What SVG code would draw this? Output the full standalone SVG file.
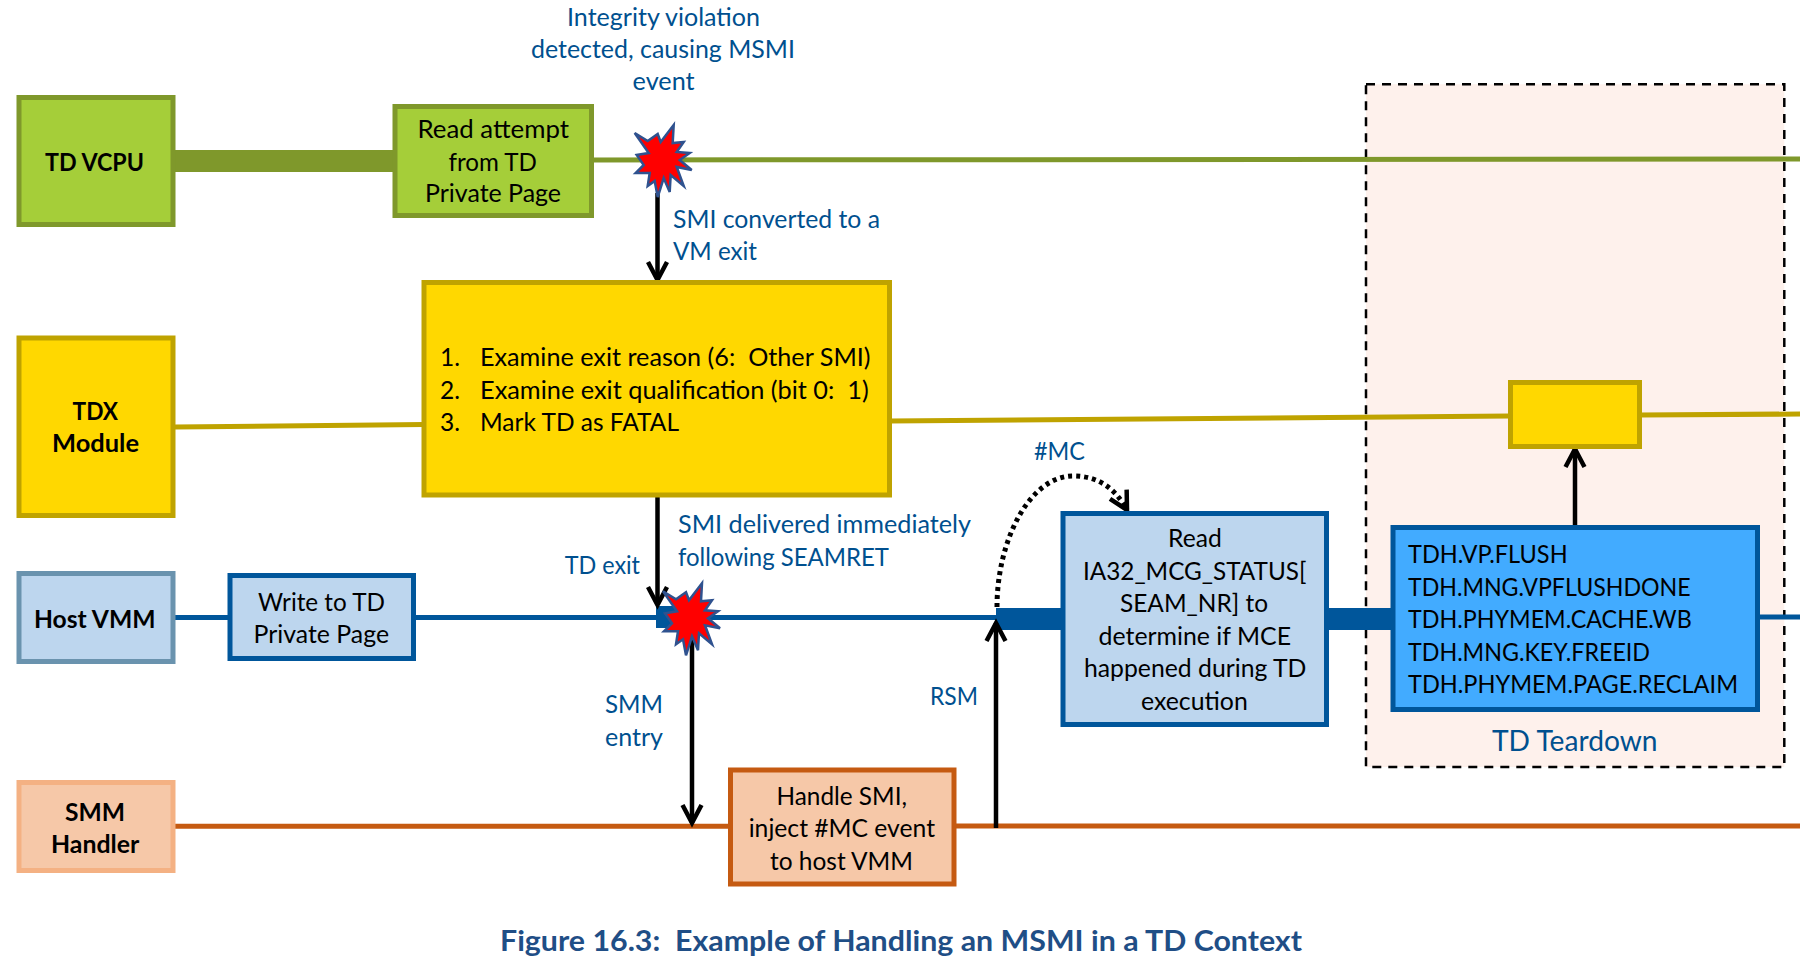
<svg xmlns="http://www.w3.org/2000/svg" width="1820" height="961" viewBox="0 0 1820 961">
<style>
text{font-family:Lato,"Liberation Sans",sans-serif;font-size:24.5px;fill:#000;white-space:pre;transform:translateY(.7px)}
.l{fill:#00508F}
.b{font-weight:700}
.cap{font-weight:700;fill:#1F4E86;font-size:28px}
.big{font-size:28px;fill:#00508F}
.gr{fill:#A5CE39;stroke:#7F982B;stroke-width:5}
.ye{fill:#FFD800;stroke:#BFA300;stroke-width:5}
.hb{fill:#BDD6EE;stroke:#6A93AE;stroke-width:5}
.bl{fill:#BDD6EE;stroke:#00569B;stroke-width:5}
.sm{fill:#F6C8A8;stroke:#F4B183;stroke-width:5}
.or{fill:#F6C8A8;stroke:#C55A11;stroke-width:5}
.td{fill:#42ABFF;stroke:#00569B;stroke-width:5}
.line{fill:none;stroke-width:5}
.g{stroke:#7F982B}.y{stroke:#BFA300}.u{stroke:#00569B}.o{stroke:#C55A11}
.arr{fill:none;stroke:#000;stroke-width:4.5;marker-end:url(#head)}
.star{fill:#F00;stroke:#2F528F;stroke-width:2.5}
</style>
<defs>
<marker id="head" markerUnits="userSpaceOnUse" markerWidth="30" markerHeight="30" refX="22" refY="15" orient="auto" overflow="visible">
<path d="M4 5.5L22 15L4 24.5" fill="none" stroke="#000" stroke-width="4.5" stroke-linejoin="miter"/>
</marker>
<polygon id="burst" points="-28 -27,-15 -19,-5 -26,-2 -18,11 -35,10 -17,21 -18,14 -8,27 -7,17 0,29 10,14 7,21 26,8 15,7 32,1 18,-5 37,-8 21,-15 26,-13 13,-27 13,-19 5,-26 -5,-14 -7"/>
</defs>
<rect width="1820" height="961" fill="#fff"/>
<rect id="teardown-region" x="1366" y="84.3" width="418.3" height="682.7" fill="#FEF1EC" stroke="#000" stroke-width="2.5" stroke-dasharray="9 7"/>
<g id="connectors">
<rect x="175" y="150" width="220" height="22" fill="#7F982B"/>
<path class="line g" d="M592 160L1800 159"/>
<path class="line y" d="M175 427L424 424.5"/>
<path class="line y" d="M890 421L1510 416"/>
<path class="line y" d="M1640 415L1800 414"/>
<path class="line u" d="M175 617.5H230"/>
<path class="line u" d="M413 617.5H1000"/>
<rect x="656" y="606" width="22" height="22" fill="#00569B"/>
<rect x="996" y="608" width="70" height="22" fill="#00569B"/>
<rect x="1327" y="608" width="66" height="22" fill="#00569B"/>
<path class="line u" d="M1758 617H1800"/>
<path class="line o" d="M175 826.3H730"/>
<path class="line o" d="M955 826H1800"/>
<path class="arr" d="M657.5 193V280"/>
<path class="arr" d="M657.5 497V605"/>
<path class="arr" d="M692 625V823"/>
<path class="arr" d="M996 828V623"/>
<path class="arr" d="M1575 527V449"/>
<path d="M997 607C997 540 1030 476 1073 476C1100 476 1116 490 1127 510" fill="none" stroke="#000" stroke-width="5" stroke-dasharray="4 4" marker-end="url(#head)"/>
</g>
<g id="star-1"><use href="#burst" class="star" x="662.7" y="160"/></g>
<g id="star-2"><use href="#burst" class="star" x="691" y="618.3"/></g>
<g id="annotations">
<text class="l" x="567" y="25" textLength="193" lengthAdjust="spacingAndGlyphs">Integrity violation</text>
<text class="l" x="531" y="57.3" textLength="264" lengthAdjust="spacingAndGlyphs">detected, causing MSMI</text>
<text class="l" x="632.6" y="89.3" textLength="62" lengthAdjust="spacingAndGlyphs">event</text>
<text class="l" x="673" y="227.7" textLength="207" lengthAdjust="spacingAndGlyphs">SMI converted to a</text>
<text class="l" x="673" y="259.3" textLength="84" lengthAdjust="spacingAndGlyphs">VM exit</text>
<text class="l" x="678" y="532.3" textLength="293" lengthAdjust="spacingAndGlyphs">SMI delivered immediately</text>
<text class="l" x="678" y="565.7" textLength="211" lengthAdjust="spacingAndGlyphs">following SEAMRET</text>
<text class="l" x="564.7" y="573.3" textLength="75.3" lengthAdjust="spacingAndGlyphs">TD exit</text>
<text class="l" x="605" y="712.7" textLength="58" lengthAdjust="spacingAndGlyphs">SMM</text>
<text class="l" x="605" y="745" textLength="58" lengthAdjust="spacingAndGlyphs">entry</text>
<text class="l" x="930" y="704" textLength="48" lengthAdjust="spacingAndGlyphs">RSM</text>
<text class="l" x="1034" y="459.3" textLength="51" lengthAdjust="spacingAndGlyphs">#MC</text>
<text class="big" x="1492" y="750.7" textLength="165.5" lengthAdjust="spacingAndGlyphs">TD Teardown</text>
<text class="cap" x="500" y="950" textLength="802" lengthAdjust="spacingAndGlyphs">Figure 16.3:  Example of Handling an MSMI in a TD Context</text>
</g>
<g id="td-vcpu">
<rect class="gr" x="19" y="97.5" width="154" height="127"/>
<text class="b" x="45" y="170" textLength="99" lengthAdjust="spacingAndGlyphs">TD VCPU</text>
</g>
<g id="read-attempt">
<rect class="gr" x="395" y="106.5" width="196.5" height="109"/>
<text x="417.5" y="137.7" textLength="151.5" lengthAdjust="spacingAndGlyphs">Read attempt</text>
<text x="448.6" y="170" textLength="88.4" lengthAdjust="spacingAndGlyphs">from TD</text>
<text x="425" y="201.7" textLength="136" lengthAdjust="spacingAndGlyphs">Private Page</text>
</g>
<g id="tdx-module">
<rect class="ye" x="19" y="338" width="154" height="177.5"/>
<text class="b" x="72.5" y="419" textLength="45.5" lengthAdjust="spacingAndGlyphs">TDX</text>
<text class="b" x="52" y="451.7" textLength="87" lengthAdjust="spacingAndGlyphs">Module</text>
</g>
<g id="examine-exit">
<rect class="ye" x="424" y="282.5" width="465.5" height="212.5"/>
<text x="440" y="365.7">1.</text>
<text x="480" y="365.7" textLength="390.6" lengthAdjust="spacingAndGlyphs">Examine exit reason (6:  Other SMI)</text>
<text x="440" y="398.3">2.</text>
<text x="480" y="398.3" textLength="388.8" lengthAdjust="spacingAndGlyphs">Examine exit qualification (bit 0:  1)</text>
<text x="440" y="430">3.</text>
<text x="480" y="430" textLength="199" lengthAdjust="spacingAndGlyphs">Mark TD as FATAL</text>
</g>
<g id="tdx-small"><rect class="ye" x="1510.5" y="382.5" width="129" height="64"/></g>
<g id="host-vmm">
<rect class="hb" x="19" y="573.5" width="154" height="88"/>
<text class="b" x="34" y="627.3" textLength="121.5" lengthAdjust="spacingAndGlyphs">Host VMM</text>
</g>
<g id="write-td">
<rect class="bl" x="230" y="575.5" width="183.5" height="83"/>
<text x="258" y="610" textLength="127" lengthAdjust="spacingAndGlyphs">Write to TD</text>
<text x="253.6" y="642.7" textLength="135.4" lengthAdjust="spacingAndGlyphs">Private Page</text>
</g>
<g id="read-mcg">
<rect class="bl" x="1063" y="513.5" width="263.5" height="211"/>
<text x="1168" y="546" textLength="53.7" lengthAdjust="spacingAndGlyphs">Read</text>
<text x="1083" y="579" textLength="223.4" lengthAdjust="spacingAndGlyphs">IA32_MCG_STATUS[</text>
<text x="1120" y="611.7" textLength="148" lengthAdjust="spacingAndGlyphs">SEAM_NR] to</text>
<text x="1098.6" y="644" textLength="192.4" lengthAdjust="spacingAndGlyphs">determine if MCE</text>
<text x="1084" y="676.7" textLength="222.4" lengthAdjust="spacingAndGlyphs">happened during TD</text>
<text x="1141" y="709.3" textLength="106.8" lengthAdjust="spacingAndGlyphs">execution</text>
</g>
<g id="tdh-calls">
<rect class="td" x="1393" y="527.5" width="364.5" height="182"/>
<text x="1408" y="562.3" textLength="159.6" lengthAdjust="spacingAndGlyphs">TDH.VP.FLUSH</text>
<text x="1408" y="595" textLength="282.6" lengthAdjust="spacingAndGlyphs">TDH.MNG.VPFLUSHDONE</text>
<text x="1408" y="627.3" textLength="283.8" lengthAdjust="spacingAndGlyphs">TDH.PHYMEM.CACHE.WB</text>
<text x="1408" y="660" textLength="242" lengthAdjust="spacingAndGlyphs">TDH.MNG.KEY.FREEID</text>
<text x="1408" y="692.3" textLength="330" lengthAdjust="spacingAndGlyphs">TDH.PHYMEM.PAGE.RECLAIM</text>
</g>
<g id="smm-handler">
<rect class="sm" x="19" y="782.5" width="154" height="88"/>
<text class="b" x="65" y="820" textLength="60" lengthAdjust="spacingAndGlyphs">SMM</text>
<text class="b" x="51" y="852.3" textLength="88.3" lengthAdjust="spacingAndGlyphs">Handler</text>
</g>
<g id="handle-smi">
<rect class="or" x="730.5" y="770" width="223.5" height="114"/>
<text x="776.5" y="804" textLength="130.5" lengthAdjust="spacingAndGlyphs">Handle SMI,</text>
<text x="748.7" y="836.7" textLength="186.3" lengthAdjust="spacingAndGlyphs">inject #MC event</text>
<text x="770" y="869" textLength="143" lengthAdjust="spacingAndGlyphs">to host VMM</text>
</g>
</svg>
